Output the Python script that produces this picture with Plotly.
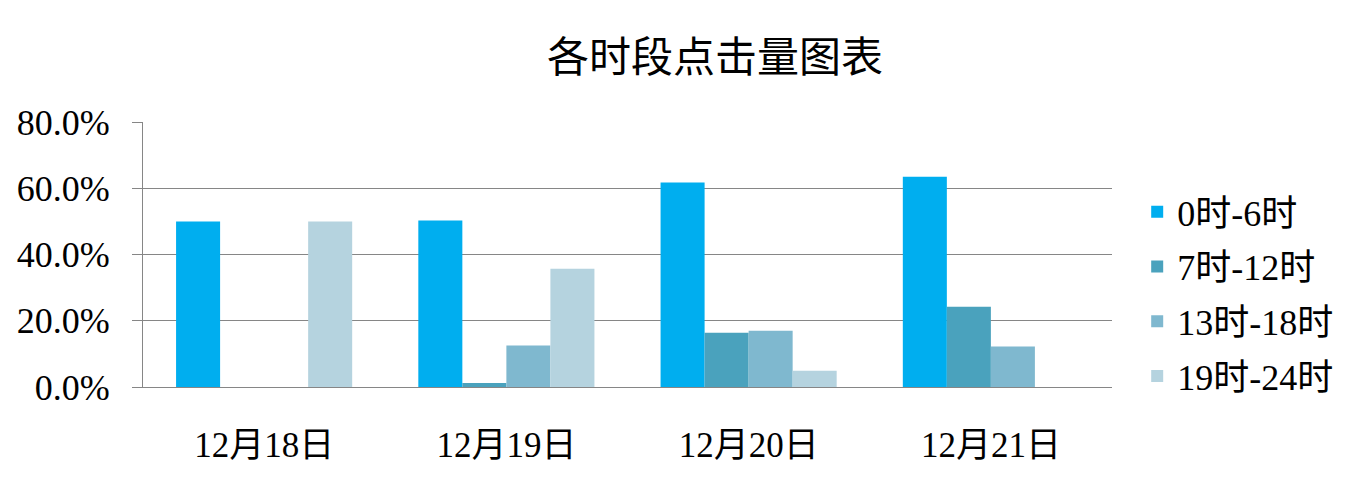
import plotly.graph_objects as go

categories = ["12月18日", "12月19日", "12月20日", "12月21日"]
series_names = ["0时-6时", "7时-12时", "13时-18时", "19时-24时"]
s0_6 = [50.0, 50.3, 61.7, 63.5]
s7_12 = [0.0, 1.2, 16.4, 24.2]
s13_18 = [0.0, 12.5, 17.0, 12.2]
s19_24 = [50.0, 35.7, 4.9, 0.0]
y_ticks = [0, 20, 40, 60, 80]
y_tick_labels = ["0.0%", "20.0%", "40.0%", "60.0%", "80.0%"]
colors = ["#00AEEF", "#4AA2BD", "#7FB8CF", "#B5D3DF"]

fig = go.Figure()
for name, vals, col in zip(series_names, [s0_6, s7_12, s13_18, s19_24], colors):
    fig.add_trace(go.Bar(x=categories, y=vals, name=name, marker_color=col,
                         marker_line_width=0, legendgroup=name))

serif = "'Liberation Serif', 'Noto Sans CJK SC', serif"
fig.update_layout(
    width=1360, height=488,
    margin=dict(l=135, r=256, t=114, b=109, autoexpand=False),
    paper_bgcolor="white", plot_bgcolor="white",
    barmode="group", bargap=0.273, bargroupgap=0,
    title=dict(text="各时段点击量图表", x=707/1360, xref="container", xanchor="center",
               y=1-49/488, yref="container", yanchor="middle",
               font=dict(family="'Noto Sans CJK SC', sans-serif", size=42, color="black")),
    legend=dict(x=1.026, xanchor="left", y=0.35, yanchor="middle",
                font=dict(family=serif, size=36, color="black"),
                tracegroupgap=5, itemclick=False),
    showlegend=True,
)
fig.update_xaxes(automargin=False, showline=True, linecolor="#868686", linewidth=1, ticks="",
                 tickfont=dict(family=serif, size=35, color="black"),
                 ticklabelstandoff=27)
fig.update_yaxes(automargin=False, range=[0, 80], tickvals=y_ticks, ticktext=y_tick_labels,
                 showgrid=True, gridcolor="#868686", gridwidth=1,
                 showline=True, linecolor="#868686", linewidth=1,
                 ticks="outside", ticklen=10, tickcolor="#868686",
                 tickfont=dict(family=serif, size=36, color="black"),
                 ticklabelstandoff=15, zeroline=False)

fig.write_html("out.html")
